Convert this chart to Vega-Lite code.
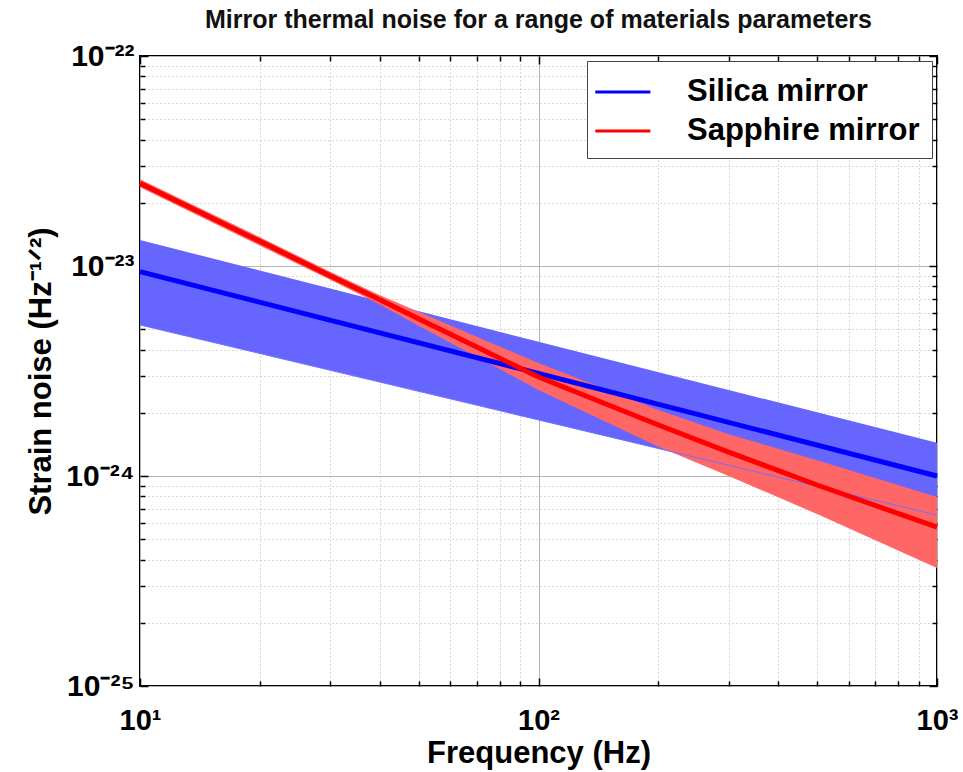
{
  "$schema": "https://vega.github.io/schema/vega-lite/v6.json",
  "width": 797,
  "height": 630,
  "autosize": "none",
  "padding": {"left": 140, "top": 56, "right": 26, "bottom": 86},
  "background": "white",
  "title": {
    "text": "Mirror thermal noise for a range of materials parameters",
    "font": "Liberation Sans",
    "fontSize": 25,
    "fontWeight": "bold",
    "color": "#111111",
    "offset": 8,
    "anchor": "middle"
  },
  "data": {
    "values": [
      {"f": 10, "series": "Silica mirror", "mid": 9.4e-24, "lo": 5.24e-24, "hi": 1.33e-23},
      {"f": 100, "series": "Silica mirror", "mid": 3.08e-24, "lo": 1.85e-24, "hi": 4.36e-24},
      {"f": 1000, "series": "Silica mirror", "mid": 1.0e-24, "lo": 6.52e-25, "hi": 1.44e-24},
      {"f": 10, "series": "Sapphire mirror", "mid": 2.48e-23, "lo": 2.37e-23, "hi": 2.59e-23},
      {"f": 20, "series": "Sapphire mirror", "mid": 1.31e-23, "lo": 1.25e-23, "hi": 1.37e-23},
      {"f": 30, "series": "Sapphire mirror", "mid": 8.99e-24, "lo": 8.6e-24, "hi": 9.4e-24},
      {"f": 40, "series": "Sapphire mirror", "mid": 6.9e-24, "lo": 6.55e-24, "hi": 7.25e-24},
      {"f": 50, "series": "Sapphire mirror", "mid": 5.61e-24, "lo": 5.2e-24, "hi": 6.05e-24},
      {"f": 70, "series": "Sapphire mirror", "mid": 4.11e-24, "lo": 3.7e-24, "hi": 4.6e-24},
      {"f": 100, "series": "Sapphire mirror", "mid": 2.96e-24, "lo": 2.57e-24, "hi": 3.45e-24},
      {"f": 200, "series": "Sapphire mirror", "mid": 1.75e-24, "lo": 1.38e-24, "hi": 2.06e-24},
      {"f": 300, "series": "Sapphire mirror", "mid": 1.3e-24, "lo": 1.0e-24, "hi": 1.58e-24},
      {"f": 500, "series": "Sapphire mirror", "mid": 9.06e-25, "lo": 6.59e-25, "hi": 1.19e-24},
      {"f": 1000, "series": "Sapphire mirror", "mid": 5.71e-25, "lo": 3.65e-25, "hi": 7.94e-25}
    ]
  },
  "config": {
    "view": {"stroke": "#000000", "strokeWidth": 2},
    "axis": {"domain": false, "tickColor": "#000000", "tickWidth": 1.5}
  },
  "resolve": {"axis": {"x": "independent", "y": "independent"}},
  "layer": [
    {
      "transform": [{"filter": "datum.series === 'Silica mirror'"}],
      "mark": {"type": "area", "color": "#6666ff", "opacity": 1},
      "encoding": {
        "x": {
          "field": "f", "type": "quantitative",
          "scale": {"type": "log", "domain": [10, 1000], "nice": false},
          "axis": {"orient": "bottom", "values": [20, 30, 40, 50, 60, 70, 80, 90, 200, 300, 400, 500, 600, 700, 800, 900],
                   "grid": true, "gridDash": [1, 3], "gridColor": "#b0b0b0", "labels": false, "tickSize": -5, "title": null}
        },
        "y": {
          "field": "lo", "type": "quantitative",
          "scale": {"type": "log", "domain": [1e-25, 1e-22], "nice": false},
          "axis": {"orient": "left", "values": [2e-25, 3e-25, 4e-25, 5e-25, 6e-25, 7e-25, 8e-25, 9e-25, 2e-24, 3e-24, 4e-24, 5e-24, 6e-24, 7e-24, 8e-24, 9e-24, 2e-23, 3e-23, 4e-23, 5e-23, 6e-23, 7e-23, 8e-23, 9e-23],
                   "grid": true, "gridDash": [1, 3], "gridColor": "#b0b0b0", "labels": false, "tickSize": -5, "title": null}
        },
        "y2": {"field": "hi"}
      }
    },
    {
      "transform": [{"filter": "datum.series === 'Sapphire mirror'"}],
      "mark": {"type": "area", "color": "#ff6666", "opacity": 1},
      "encoding": {
        "x": {
          "field": "f", "type": "quantitative",
          "axis": {"orient": "top", "values": [20, 30, 40, 50, 60, 70, 80, 90, 200, 300, 400, 500, 600, 700, 800, 900],
                   "grid": false, "labels": false, "tickSize": -5, "title": null}
        },
        "y": {
          "field": "lo", "type": "quantitative",
          "axis": {"orient": "right", "values": [2e-25, 3e-25, 4e-25, 5e-25, 6e-25, 7e-25, 8e-25, 9e-25, 2e-24, 3e-24, 4e-24, 5e-24, 6e-24, 7e-24, 8e-24, 9e-24, 2e-23, 3e-23, 4e-23, 5e-23, 6e-23, 7e-23, 8e-23, 9e-23],
                   "grid": false, "labels": false, "tickSize": -5, "title": null}
        },
        "y2": {"field": "hi"}
      }
    },
    {
      "transform": [{"filter": "datum.series === 'Silica mirror'"}],
      "mark": {"type": "line", "color": "#7070ff", "strokeWidth": 1},
      "encoding": {
        "x": {
          "field": "f", "type": "quantitative",
          "axis": {"orient": "top", "values": [10, 100, 1000], "grid": false, "labels": false, "tickSize": -8, "title": null}
        },
        "y": {
          "field": "lo", "type": "quantitative",
          "axis": {"orient": "right", "values": [1e-25, 1e-24, 1e-23, 1e-22], "grid": false, "labels": false, "tickSize": -8, "title": null}
        }
      }
    },
    {
      "mark": {"type": "line", "strokeWidth": 5},
      "encoding": {
        "x": {
          "field": "f", "type": "quantitative",
          "axis": {"orient": "bottom", "values": [10, 100, 1000], "grid": true, "gridColor": "#b4b4b4", "gridWidth": 1,
                   "tickSize": -8, "labelFlush": false,
                   "labelExpr": "datum.value < 50 ? '10¹' : datum.value < 500 ? '10²' : '10³'",
                   "labelFont": "Liberation Sans", "labelFontSize": 29, "labelFontWeight": "bold", "labelColor": "#000000",
                   "labelPadding": 28,
                   "title": "Frequency (Hz)", "titleFont": "Liberation Sans", "titleFontSize": 31, "titleFontWeight": "bold",
                   "titleColor": "#000000", "titlePadding": 3}
        },
        "y": {
          "field": "mid", "type": "quantitative",
          "axis": {"orient": "left", "values": [1e-25, 1e-24, 1e-23, 1e-22], "grid": true, "gridColor": "#b4b4b4", "gridWidth": 1,
                   "tickSize": -8,
                   "labelExpr": "datum.value < 5e-25 ? '10⁻²⁵' : datum.value < 5e-24 ? '10⁻²⁴' : datum.value < 5e-23 ? '10⁻²³' : '10⁻²²'",
                   "labelFont": "Liberation Sans", "labelFontSize": 30, "labelFontWeight": "bold", "labelColor": "#000000",
                   "labelPadding": 14,
                   "title": "Strain noise (Hz⁻¹ᐟ²)", "titleFont": "Liberation Sans", "titleFontSize": 31, "titleFontWeight": "bold",
                   "titleColor": "#000000", "titlePadding": 8}
        },
        "color": {
          "field": "series", "type": "nominal",
          "scale": {"domain": ["Silica mirror", "Sapphire mirror"], "range": ["#0000ff", "#ff0000"]},
          "legend": {
            "title": null, "orient": "top-right", "offset": 5,
            "fillColor": "#ffffff", "strokeColor": "#444444", "padding": 12, "cornerRadius": 0,
            "labelFont": "Liberation Sans", "labelFontSize": 31, "labelFontWeight": "bold", "labelColor": "#000000",
            "labelLimit": 0, "labelOffset": 50,
            "symbolType": "M-1.31,0H1.87", "symbolSize": 1200, "symbolStrokeWidth": 3, "rowPadding": 5
          }
        }
      }
    }
  ]
}
